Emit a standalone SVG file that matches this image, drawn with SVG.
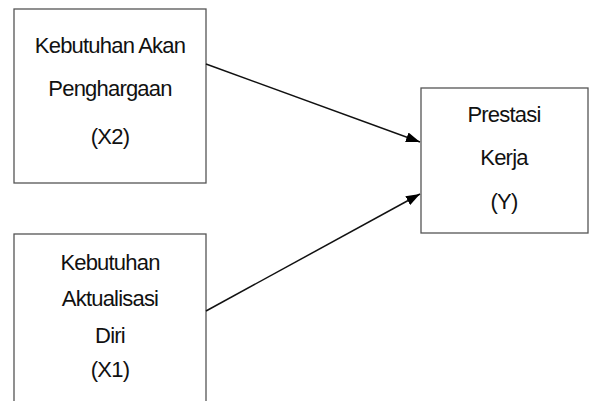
<svg xmlns="http://www.w3.org/2000/svg" width="590" height="401" viewBox="0 0 590 401">
<style>
.box{fill:#fff;stroke:#555;stroke-width:1.3}
.t{font-family:"Liberation Sans",Arial,sans-serif;font-size:22px;letter-spacing:-0.8px;fill:#111;text-anchor:middle}
.c{stroke:#111;stroke-width:1.5;fill:none}
</style>
<defs>
<marker id="ah" markerWidth="14" markerHeight="10" refX="14" refY="5" orient="auto" markerUnits="userSpaceOnUse">
<path d="M0,0 L14,5 L0,10 Z" fill="#000"/>
</marker>
</defs>
<rect width="590" height="401" fill="#fff"/>
<g id="x2">
<rect class="box" x="14" y="9" width="192" height="174"/>
<text class="t" x="110" y="52.5">Kebutuhan Akan</text>
<text class="t" x="110" y="96">Penghargaan</text>
<text class="t" x="110" y="144">(X2)</text>
</g>
<g id="x1">
<rect class="box" x="14" y="234" width="192" height="180"/>
<text class="t" x="110" y="270">Kebutuhan</text>
<text class="t" x="110" y="306">Aktualisasi</text>
<text class="t" x="110" y="343">Diri</text>
<text class="t" x="110" y="377">(X1)</text>
</g>
<g id="y">
<rect class="box" x="421" y="88" width="167" height="145"/>
<text class="t" x="504" y="122">Prestasi</text>
<text class="t" x="504" y="165">Kerja</text>
<text class="t" x="504" y="209">(Y)</text>
</g>
<g id="connectors">
<line class="c" x1="206" y1="64" x2="420" y2="142" marker-end="url(#ah)"/>
<line class="c" x1="206" y1="311" x2="420" y2="194" marker-end="url(#ah)"/>
</g>
</svg>
